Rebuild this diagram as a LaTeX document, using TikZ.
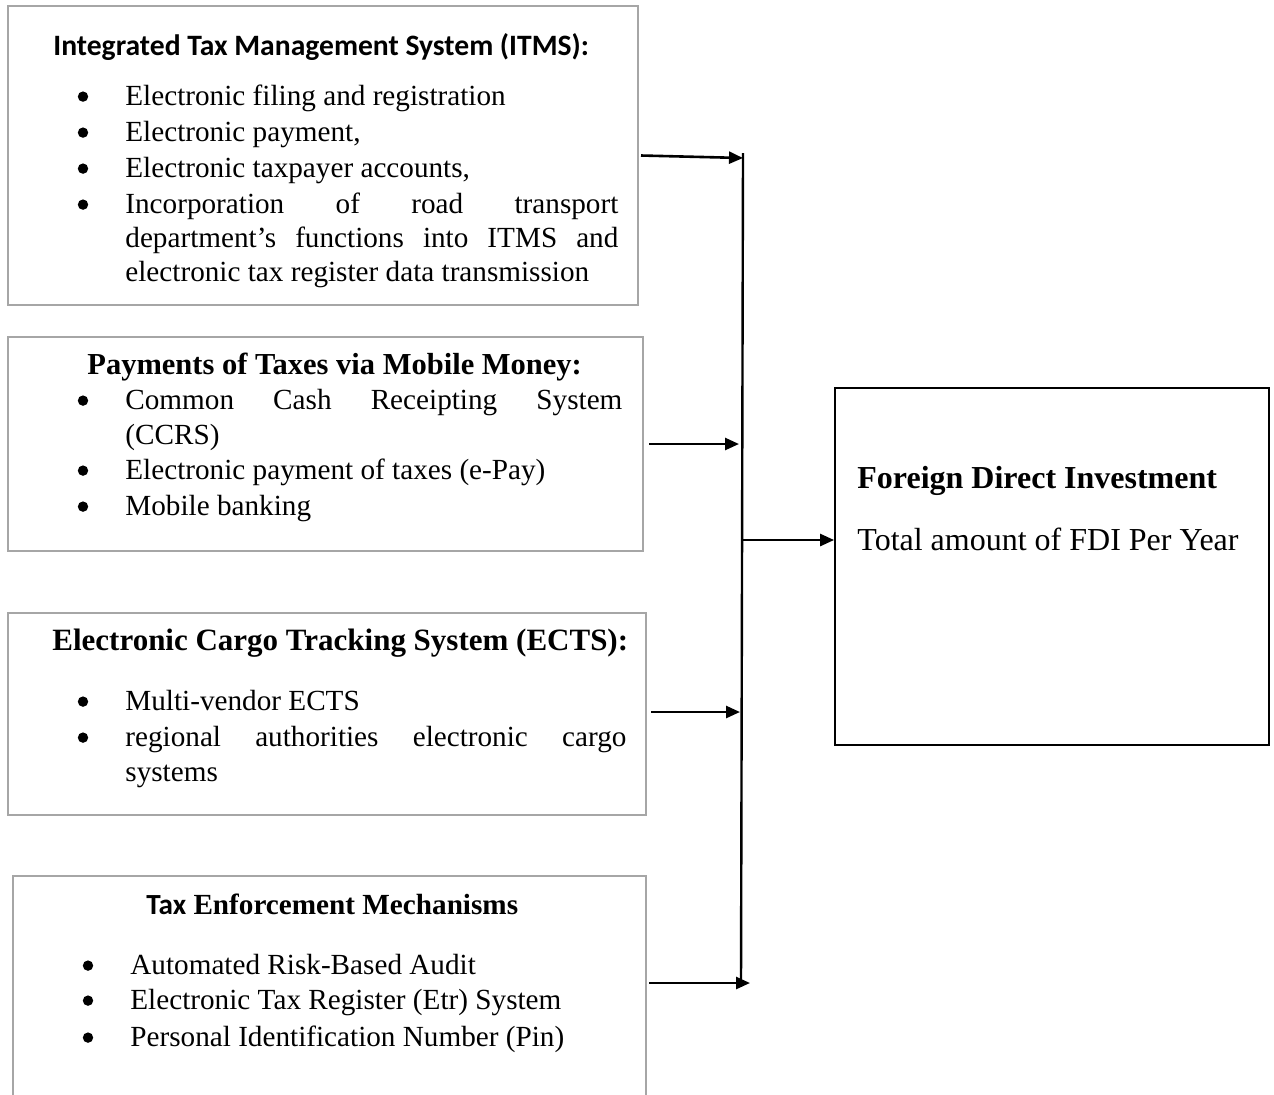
\documentclass[tikz,border=0pt]{standalone}
\usepackage{fontspec}
\setmainfont{Liberation Serif}
\newfontfamily\calfont{Carlito}
\usetikzlibrary{arrows.meta}
\definecolor{boxgray}{HTML}{A6A6A6}
\begin{document}
\begin{tikzpicture}[x=0.5pt,y=-0.5pt,
  box/.style={draw=boxgray, line width=1pt, rectangle, inner sep=0pt},
  fdibox/.style={draw=black, line width=0.9pt, rectangle, inner sep=0pt},
  txt/.style={anchor=base west, inner sep=0pt, font=\fontsize{14.6}{17}\selectfont},
  bul/.style={circle, fill=black, inner sep=0pt, minimum size=5.2pt, yshift=4.2pt},
  ttl/.style={anchor=base west, inner sep=0pt, font=\fontsize{15}{18}\selectfont\bfseries},
  ctl/.style={anchor=base west, inner sep=0pt, font=\fontsize{14.8}{17}\selectfont\calfont\bfseries},
  big/.style={anchor=base west, inner sep=0pt, font=\fontsize{16}{19}\selectfont},
  conn/.style={line width=1.3pt, -{Triangle[length=7pt,width=6pt]}},
  bus/.style={line width=1.2pt}]
\useasboundingbox (0,0) rectangle (1274,1094);
\clip (0,0) rectangle (1274,1094);

% boxes
\node[box, minimum width=315pt, minimum height=149.5pt] (box1) at (323,155.5) {};
\node[box, minimum width=317.5pt, minimum height=107pt] (box2) at (325.5,444) {};
\node[box, minimum width=319pt, minimum height=101pt] (box3) at (327,714) {};
\node[box, minimum width=316.5pt, minimum height=110pt] (box4) at (329.5,986) {};
\node[fdibox, minimum width=217pt, minimum height=178.5pt] (fdi) at (1052,566.5) {};

% box 1
\node[ctl] (t1) at (53,55) {Integrated Tax Management System (ITMS):};
\node[bul] (b11) at (83,105) {};
\node[txt] (l11) at (125,105) {Electronic filing and registration};
\node[bul] (b12) at (83,141) {};
\node[txt] (l12) at (125,141) {Electronic payment,};
\node[bul] (b13) at (83,177) {};
\node[txt] (l13) at (125,177) {Electronic taxpayer accounts,};
\node[bul] (b14) at (83,213) {};
\node[txt] (l14) at (125,213) {\makebox[246.5pt][s]{Incorporation of road transport}};
\node[txt] (l15) at (125,247) {\makebox[246.5pt][s]{department’s functions into ITMS and}};
\node[txt] (l16) at (125,281) {electronic tax register data transmission};

% box 2
\node[ttl, font=\fontsize{15.25}{18}\selectfont\bfseries] (t2) at (87,374) {Payments of Taxes via Mobile Money:};
\node[bul] (b21) at (83,409) {};
\node[txt] (l21) at (125,409) {\makebox[248.5pt][s]{Common Cash Receipting System}};
\node[txt] (l22) at (125,444) {(CCRS)};
\node[bul] (b23) at (83,479) {};
\node[txt] (l23) at (125,479) {Electronic payment of taxes (e-Pay)};
\node[bul] (b24) at (83,515) {};
\node[txt] (l24) at (125,515) {Mobile banking};

% box 3
\node[ttl, font=\fontsize{15.5}{18}\selectfont\bfseries] (t3) at (52,650) {Electronic Cargo Tracking System (ECTS):};
\node[bul] (b31) at (83,710) {};
\node[txt] (l31) at (125,710) {Multi-vendor ECTS};
\node[bul] (b32) at (83,746) {};
\node[txt] (l32) at (125,746) {\makebox[250.5pt][s]{regional authorities electronic cargo}};
\node[txt] (l33) at (125,781) {systems};

% box 4
\node[ttl, font=\fontsize{14.6}{18}\selectfont\bfseries] (t4) at (146,914) {{\calfont Tax} Enforcement Mechanisms};
\node[bul] (b41) at (88,974) {};
\node[txt] (l41) at (130,974) {Automated Risk-Based Audit};
\node[bul] (b42) at (88,1009) {};
\node[txt] (l42) at (130,1009) {Electronic Tax Register (Etr) System};
\node[bul] (b43) at (88,1046) {};
\node[txt] (l43) at (130,1046) {Personal Identification Number (Pin)};

% FDI box
\node[big, font=\fontsize{16}{19}\selectfont\bfseries] (ft) at (857,488) {Foreign Direct Investment};
\node[big] (fs) at (857,550) {Total amount of FDI Per Year};

% bus and connectors
\coordinate (bt) at (743,153);
\coordinate (bb) at (741,985);
\draw[bus] (bt) -- (bb);
\coordinate (a1) at (743,158);
\draw[conn] ([xshift=1pt]box1.east) -- (a1);
\coordinate (a2) at (739,444);
\draw[conn] ([xshift=2.5pt]box2.east) -- (a2);
\coordinate (a3) at (740,712);
\draw[conn] ([xshift=2pt,yshift=1pt]box3.east) -- (a3);
\coordinate (a4) at (750,983);
\draw[conn] ([xshift=1pt,yshift=1.5pt]box4.east) -- (a4);
\coordinate (j) at (741,540);
\draw[conn] (j) -- (j -| fdi.west);
\end{tikzpicture}
\end{document}
